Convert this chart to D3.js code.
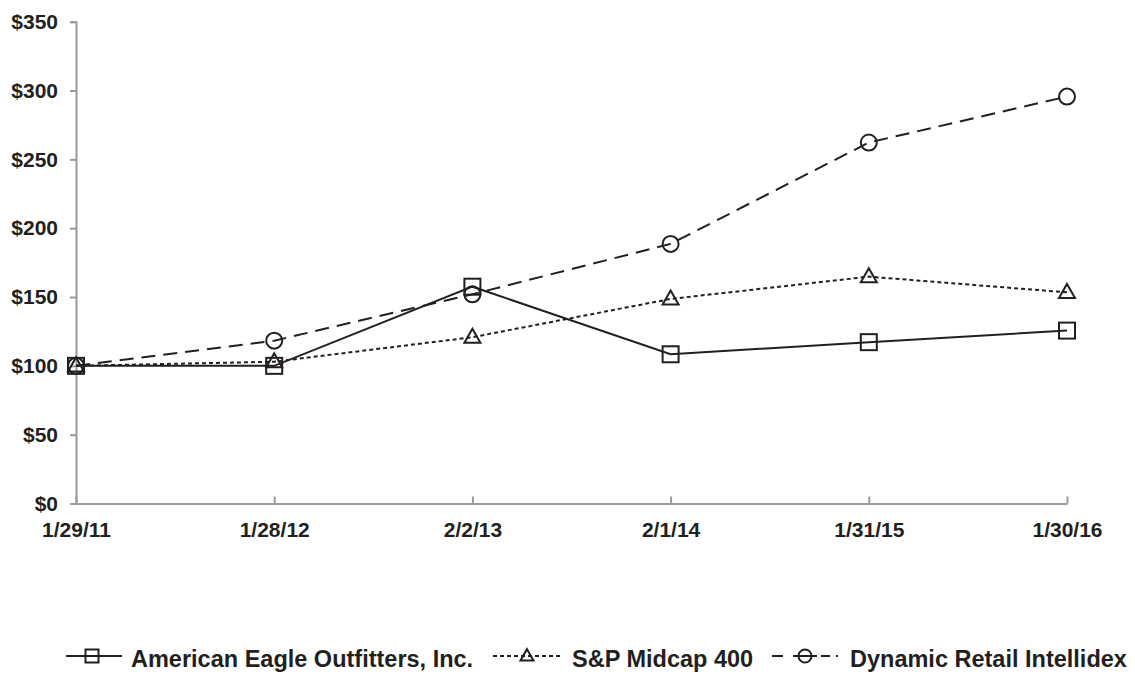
<!DOCTYPE html>
<html><head><meta charset="utf-8">
<script src="https://cdn.jsdelivr.net/npm/d3@7"></script>
<style>
html,body{margin:0;padding:0;background:#fff;}
text{font-family:"Liberation Sans",Arial,Helvetica,sans-serif;font-weight:bold;fill:#231f20;}
</style></head>
<body><svg id="c" width="1135" height="674"></svg>
<script>
const categories = ["1/29/11","1/28/12","2/2/13","2/1/14","1/31/15","1/30/16"];
const aeoValues = [100, 100, 157.5, 108.4, 117.2, 125.6];
const spValues = [100, 103, 120.8, 148.6, 164.8, 153.4];
const dynValues = [100, 118.3, 152, 188.6, 262.2, 295.6];
const yTicks = [0, 50, 100, 150, 200, 250, 300, 350];
const seriesNames = ["American Eagle Outfitters, Inc.", "S&P Midcap 400", "Dynamic Retail Intellidex"];

const ink = "#231f20", axisCol = "#9a9a9c";
const svg = d3.select("#c");
const x = d3.scalePoint().domain(categories).range([76, 1067]);
const y = d3.scaleLinear().domain([0, 350]).range([503.5, 21.7]);

// y axis
const ya = svg.append("g").attr("transform","translate(76,0)")
  .call(d3.axisLeft(y).tickValues(yTicks).tickFormat(d => "$" + d).tickSize(6).tickPadding(12));
ya.select(".domain").attr("stroke", axisCol).attr("stroke-width", 2);
ya.selectAll(".tick line").attr("stroke", axisCol).attr("stroke-width", 2);
ya.selectAll("text").attr("font-size", 21).style("font-family", '"Liberation Sans",Arial,sans-serif').style("font-weight","bold").attr("fill", ink);

// x axis
const xa = svg.append("g").attr("transform","translate(0,503.5)")
  .call(d3.axisBottom(x).tickSizeInner(-7).tickSizeOuter(0).tickPadding(19));
xa.select(".domain").attr("stroke", axisCol).attr("stroke-width", 2);
xa.selectAll(".tick line").attr("stroke", axisCol).attr("stroke-width", 2);
xa.selectAll("text").attr("font-size", 21).style("font-family", '"Liberation Sans",Arial,sans-serif').style("font-weight","bold").attr("fill", ink);

const series = [
  {name: seriesNames[0], values: aeoValues, dash: null, marker: "square"},
  {name: seriesNames[1], values: spValues, dash: "4,3", marker: "triangle"},
  {name: seriesNames[2], values: dynValues, dash: "14,8", marker: "circle"}
];

const line = d3.line().x((d,i) => x(categories[i])).y(d => y(d));

function drawMarker(g, type, cx, cy, s) {
  if (type === "square") {
    g.append("rect").attr("x", cx - s/2).attr("y", cy - s/2).attr("width", s).attr("height", s)
      .attr("fill","none").attr("stroke", ink).attr("stroke-width", 2);
  } else if (type === "circle") {
    g.append("circle").attr("cx", cx).attr("cy", cy).attr("r", s/2)
      .attr("fill","none").attr("stroke", ink).attr("stroke-width", 2);
  } else {
    const h = s*0.88;
    g.append("path").attr("d", `M${cx},${cy - h*0.6}L${cx + s/2},${cy + h*0.4}L${cx - s/2},${cy + h*0.4}Z`)
      .attr("fill","none").attr("stroke", ink).attr("stroke-width", 2);
  }
}

[2,1,0].forEach(k => {
  const s = series[k];
  svg.append("path").datum(s.values).attr("d", line)
    .attr("fill","none").attr("stroke", ink).attr("stroke-width", 2)
    .attr("stroke-dasharray", s.dash);
});
[2,1,0].forEach(k => {
  const s = series[k];
  const g = svg.append("g");
  s.values.forEach((v,i) => drawMarker(g, s.marker, x(categories[i]), y(v), 16));
});

// legend
const legY = 656;
const leg = [
  {x1: 66, x2: 122, mx: 92, tx: 131, dash: null},
  {x1: 493, x2: 562, mx: 527, tx: 572, dash: "4,3"},
  {x1: 772, x2: 839, mx: 805, tx: 850, dash: "11,10,24,4,9,6,2,10"}
];
const lg = svg.append("g");
series.forEach((s,k) => {
  const L = leg[k];
  lg.append("line").attr("x1", L.x1).attr("x2", L.x2).attr("y1", legY).attr("y2", legY)
    .attr("stroke", ink).attr("stroke-width", 2).attr("stroke-dasharray", L.dash);
  drawMarker(lg, s.marker, L.mx, legY, 13);
  lg.append("text").attr("x", L.tx).attr("y", legY + 11).attr("font-size", 23.5).text(s.name);
});
</script></body></html>
